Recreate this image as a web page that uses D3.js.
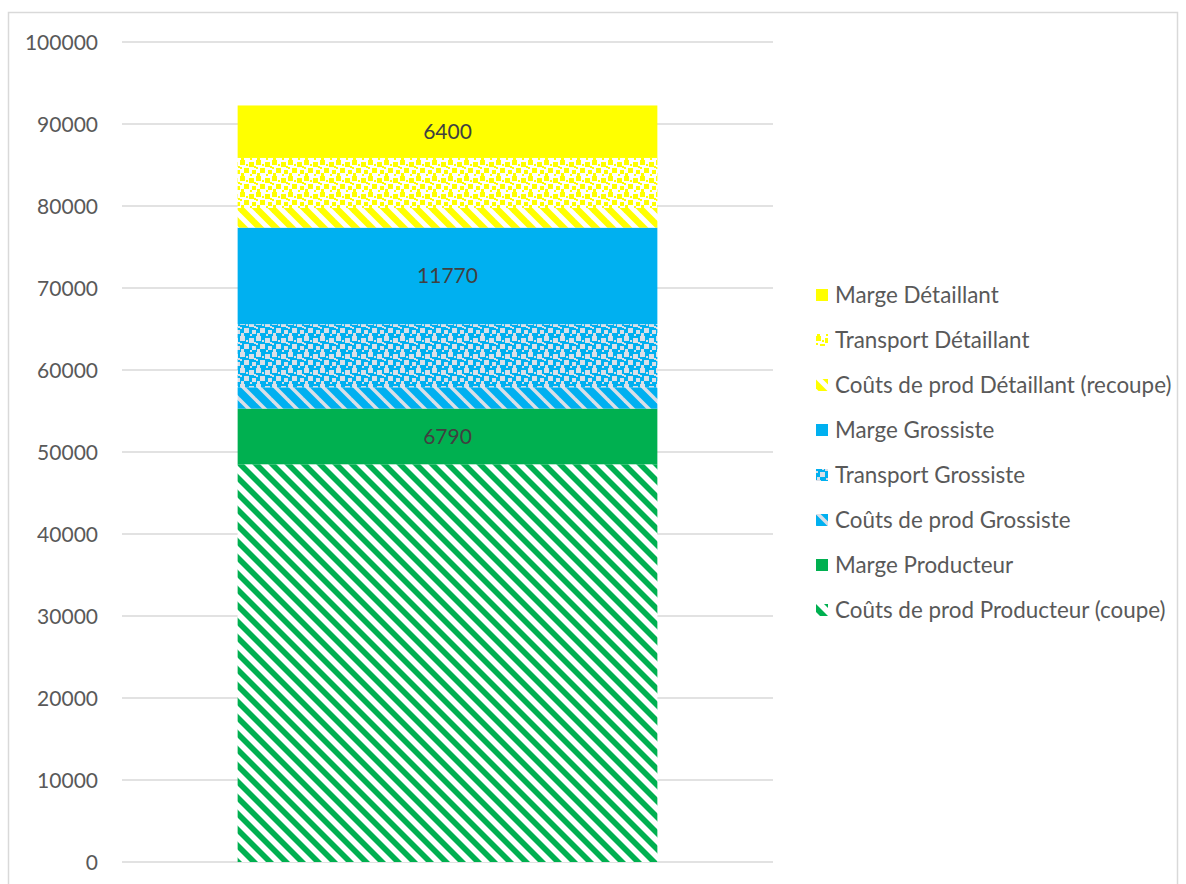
<!DOCTYPE html>
<html>
<head>
<meta charset="utf-8">
<script src="https://cdn.jsdelivr.net/npm/d3@7"></script>
<style>
  html, body { margin: 0; padding: 0; background: #ffffff; }
  svg { display: block; }
  text { font-family: Lato, "Open Sans", sans-serif; }
</style>
</head>
<body>
<svg id="chart" width="1186" height="884"></svg>
<script>
// Cost build-up of the product, bottom to top
const categories = [""];
const series = [
  "Coûts de prod Producteur (coupe)",
  "Marge Producteur",
  "Coûts de prod Grossiste",
  "Transport Grossiste",
  "Marge Grossiste",
  "Coûts de prod Détaillant (recoupe)",
  "Transport Détaillant",
  "Marge Détaillant"
];
const values = [48500, 6790, 2600, 7700, 11770, 2400, 6100, 6400];
const labelled = [false, true, false, false, true, false, false, true];
const yTicks = [0, 10000, 20000, 30000, 40000, 50000, 60000, 70000, 80000, 90000, 100000];

const YELLOW = "#ffff00", BLUE = "#00b0f0", GREEN = "#00b050", GREY = "#dadfe7";
// fill per series: solid colour or pattern id
const fills = [
  "url(#stripeGreen)", GREEN,
  "url(#stripeBlue)", "url(#confettiBlue)", BLUE,
  "url(#stripeYellow)", "url(#confettiYellow)", YELLOW
];

const svg = d3.select("#chart");
const defs = svg.append("defs");

// downward diagonal stripes on a 16px tile
function stripePattern(id, bg, fg, half) {
  const p = defs.append("pattern").attr("id", id)
    .attr("patternUnits", "userSpaceOnUse").attr("width", 16).attr("height", 16);
  p.append("rect").attr("width", 16).attr("height", 16).attr("fill", bg);
  const h = half;
  p.append("polygon").attr("fill", fg)
    .attr("points", `0,0 ${h},0 16,${16 - h} 16,16 ${16 - h},16 0,${h}`);
  p.append("polygon").attr("fill", fg)
    .attr("points", `${16 - h},0 16,0 16,${h}`);
  p.append("polygon").attr("fill", fg)
    .attr("points", `0,${16 - h} 0,16 ${h},16`);
}
// scattered squares on a 16px tile
function confettiPattern(id, bg, fg) {
  const p = defs.append("pattern").attr("id", id)
    .attr("patternUnits", "userSpaceOnUse").attr("width", 16).attr("height", 16);
  p.append("rect").attr("width", 16).attr("height", 16).attr("fill", bg);
  const sq = [
    [0, 0, 5], [9, 2, 5], [4, 8, 5], [12, 10, 4],
    [6, 4, 2], [14, 6, 2], [1, 13, 3], [10, 14, 2], [0, 7, 2]
  ];
  sq.forEach(([x, y, s]) => p.append("rect").attr("x", x).attr("y", y)
    .attr("width", s).attr("height", s).attr("fill", fg));
}
stripePattern("stripeGreen", "#ffffff", GREEN, 4);
stripePattern("stripeYellow", "#ffffff", YELLOW, 4.5);
stripePattern("stripeBlue", BLUE, GREY, 2.5);
confettiPattern("confettiYellow", "#ffffff", YELLOW);
confettiPattern("confettiBlue", BLUE, GREY);

// outer chart frame
svg.append("rect").attr("x", 8.5).attr("y", 12.5).attr("width", 1169).attr("height", 890)
  .attr("fill", "none").attr("stroke", "#d9d9d9").attr("stroke-width", 1.5);

const x = d3.scaleBand().domain(categories).range([122, 773]).padding(0.216);
const y = d3.scaleLinear().domain([0, 100000]).range([862, 42]);

// gridlines
svg.append("g").selectAll("line").data(yTicks).join("line")
  .attr("x1", 122).attr("x2", 773)
  .attr("y1", d => y(d)).attr("y2", d => y(d))
  .attr("stroke", "#d9d9d9").attr("stroke-width", 1.5);

// y axis labels
const yAxis = d3.axisLeft(y).tickValues(yTicks).tickSize(0).tickPadding(0).tickFormat(d3.format("d"));
const gy = svg.append("g").attr("transform", "translate(98,0)").call(yAxis);
gy.select(".domain").remove();
gy.selectAll("text").attr("font-family", "Lato, sans-serif").attr("font-size", 21)
  .attr("fill", "#595959").attr("dy", "0.35em");

// stacked segments
let acc = 0;
const stack = values.map((v, i) => { const s = { i, y0: acc, y1: acc + v, v }; acc += v; return s; });

const bars = svg.append("g");
categories.forEach(c => {
  bars.selectAll("rect.seg").data(stack).join("rect").attr("class", "seg")
    .attr("x", x(c)).attr("width", x.bandwidth())
    .attr("y", d => y(d.y1)).attr("height", d => y(d.y0) - y(d.y1))
    .attr("fill", d => fills[d.i]);

  bars.selectAll("text.val").data(stack.filter(d => labelled[d.i])).join("text").attr("class", "val")
    .attr("x", x(c) + x.bandwidth() / 2)
    .attr("y", d => (y(d.y0) + y(d.y1)) / 2)
    .attr("dy", "0.35em").attr("text-anchor", "middle")
    .attr("font-size", 21).attr("fill", "#404040")
    .text(d => d.v);
});

// legend, top entry is the top of the stack
const legendOrder = series.map((s, i) => i).reverse();
const lg = svg.append("g");
legendOrder.forEach((si, k) => {
  const cy = 295 + k * 45;
  lg.append("rect").attr("x", 816).attr("y", cy - 6).attr("width", 12).attr("height", 12)
    .attr("fill", fills[si]);
  lg.append("text").attr("x", 835).attr("y", cy).attr("dy", "0.35em")
    .attr("font-size", 22.4).attr("fill", "#595959").text(series[si]);
});
</script>
</body>
</html>
